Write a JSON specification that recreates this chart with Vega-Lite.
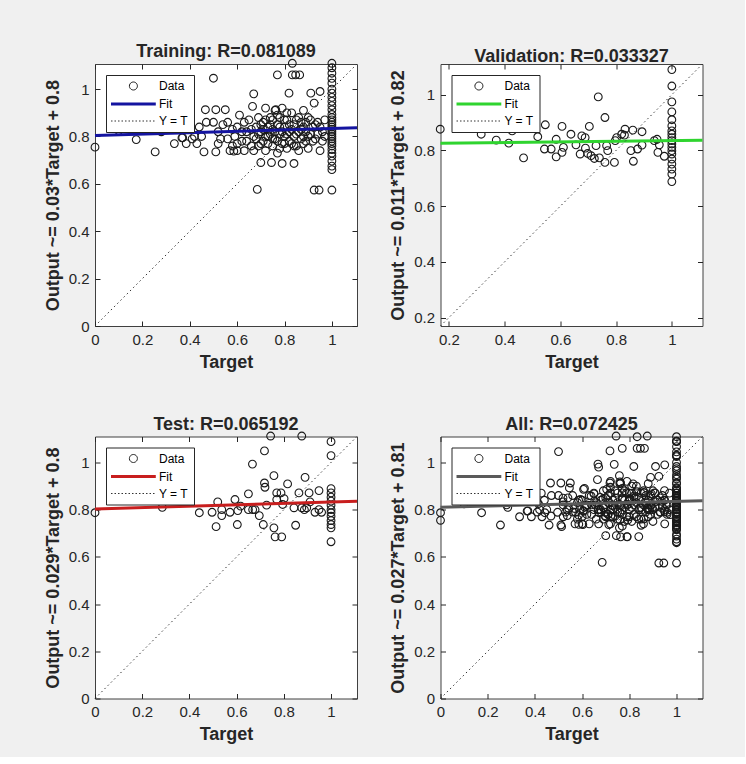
{
"$schema":"https://vega.github.io/schema/vega-lite/v6.json",
"background":"#f0f0f0",
"padding":{"left":43,"top":42,"right":36,"bottom":13},
"config":{
 "font":"Liberation Sans",
 "view":{"fill":"white","stroke":"#404040","strokeWidth":1},
 "axis":{"labelFont":"Liberation Sans","labelFontSize":15,"labelColor":"#262626","labelFlush":false,"titleFont":"Liberation Sans","titleFontSize":18,"titleFontWeight":"bold","titleColor":"#262626","tickSize":-5,"tickColor":"#262626","tickWidth":1,"labelPadding":11,"domain":false,"grid":false,"titlePadding":6},
 "title":{"font":"Liberation Sans","fontSize":18,"fontWeight":"bold","color":"#262626","offset":-4,"frame":"group"},
 "legend":{"orient":"top-left","offset":11,"fillColor":"white","strokeColor":"#262626","padding":5,"rowPadding":5,"symbolSize":64,"labelOffset":36,"labelFontSize":12,"labelFont":"Liberation Sans","labelColor":"#000000"}
},
"datasets":{
"training":[{"target":0,"output":0.755},{"target":0.1,"output":0.825},{"target":0.174,"output":0.787},{"target":0.254,"output":0.735},{"target":0.28,"output":0.82},{"target":0.335,"output":0.77},{"target":0.37,"output":0.795},{"target":0.385,"output":0.77},{"target":0.41,"output":0.79},{"target":0.43,"output":0.77},{"target":0.44,"output":0.84},{"target":0.46,"output":0.735},{"target":0.466,"output":0.913},{"target":0.5,"output":1.046},{"target":0.45,"output":0.8},{"target":0.47,"output":0.86},{"target":0.51,"output":0.913},{"target":0.55,"output":0.913},{"target":0.51,"output":0.735},{"target":0.52,"output":0.77},{"target":0.53,"output":0.79},{"target":0.54,"output":0.85},{"target":0.5,"output":0.86},{"target":0.52,"output":0.82},{"target":0.56,"output":0.86},{"target":0.57,"output":0.74},{"target":0.58,"output":0.76},{"target":0.59,"output":0.8},{"target":0.6,"output":0.84},{"target":0.61,"output":0.89},{"target":0.62,"output":0.78},{"target":0.63,"output":0.74},{"target":0.6,"output":0.74},{"target":0.64,"output":0.82},{"target":0.65,"output":0.87},{"target":0.66,"output":0.76},{"target":0.665,"output":0.927},{"target":0.67,"output":0.98},{"target":0.67,"output":0.8},{"target":0.68,"output":0.84},{"target":0.685,"output":0.577},{"target":0.69,"output":0.88},{"target":0.69,"output":0.76},{"target":0.7,"output":0.69},{"target":0.7,"output":0.82},{"target":0.71,"output":0.86},{"target":0.71,"output":0.78},{"target":0.72,"output":0.92},{"target":0.72,"output":0.74},{"target":0.73,"output":0.84},{"target":0.73,"output":0.8},{"target":0.74,"output":0.88},{"target":0.745,"output":0.69},{"target":0.75,"output":0.76},{"target":0.75,"output":0.83},{"target":0.76,"output":0.91},{"target":0.76,"output":0.79},{"target":0.763,"output":0.913},{"target":0.77,"output":1.06},{"target":0.77,"output":0.85},{"target":0.77,"output":0.73},{"target":0.78,"output":0.81},{"target":0.78,"output":0.88},{"target":0.79,"output":0.686},{"target":0.79,"output":0.77},{"target":0.79,"output":0.92},{"target":0.8,"output":0.84},{"target":0.8,"output":0.8},{"target":0.81,"output":0.75},{"target":0.81,"output":0.87},{"target":0.819,"output":0.983},{"target":0.82,"output":0.82},{"target":0.82,"output":0.78},{"target":0.83,"output":0.9},{"target":0.833,"output":1.109},{"target":0.833,"output":1.06},{"target":0.847,"output":1.06},{"target":0.864,"output":1.06},{"target":0.84,"output":0.686},{"target":0.84,"output":0.76},{"target":0.84,"output":0.85},{"target":0.85,"output":0.81},{"target":0.86,"output":0.88},{"target":0.86,"output":0.74},{"target":0.87,"output":0.79},{"target":0.87,"output":0.83},{"target":0.88,"output":0.91},{"target":0.88,"output":0.77},{"target":0.89,"output":0.86},{"target":0.89,"output":0.82},{"target":0.9,"output":0.75},{"target":0.9,"output":0.8},{"target":0.91,"output":0.87},{"target":0.911,"output":0.983},{"target":0.92,"output":0.84},{"target":0.925,"output":0.941},{"target":0.925,"output":0.574},{"target":0.93,"output":0.79},{"target":0.94,"output":0.86},{"target":0.946,"output":0.574},{"target":0.95,"output":0.99},{"target":0.95,"output":0.74},{"target":0.96,"output":0.82},{"target":0.97,"output":0.8},{"target":0.97,"output":0.87},
{"target":0.56,"output":0.79},{"target":0.58,"output":0.83},{"target":0.6,"output":0.77},{"target":0.62,"output":0.82},{"target":0.63,"output":0.86},{"target":0.64,"output":0.78},{"target":0.66,"output":0.83},{"target":0.67,"output":0.74},{"target":0.68,"output":0.79},{"target":0.69,"output":0.81},{"target":0.7,"output":0.77},{"target":0.7,"output":0.85},{"target":0.71,"output":0.83},{"target":0.72,"output":0.8},{"target":0.72,"output":0.87},{"target":0.73,"output":0.77},{"target":0.74,"output":0.81},{"target":0.74,"output":0.85},{"target":0.75,"output":0.79},{"target":0.75,"output":0.87},{"target":0.76,"output":0.82},{"target":0.77,"output":0.78},{"target":0.77,"output":0.89},{"target":0.78,"output":0.75},{"target":0.78,"output":0.84},{"target":0.79,"output":0.82},{"target":0.8,"output":0.87},{"target":0.8,"output":0.77},{"target":0.81,"output":0.81},{"target":0.81,"output":0.9},{"target":0.82,"output":0.85},{"target":0.83,"output":0.77},{"target":0.83,"output":0.83},{"target":0.84,"output":0.8},{"target":0.85,"output":0.87},{"target":0.85,"output":0.76},{"target":0.86,"output":0.82},{"target":0.87,"output":0.86},{"target":0.88,"output":0.8},{"target":0.88,"output":0.84},{"target":0.89,"output":0.78},{"target":0.9,"output":0.88},{"target":0.91,"output":0.81},{"target":0.92,"output":0.78},{"target":0.93,"output":0.85},{"target":0.94,"output":0.81},{"target":0.95,"output":0.84},{"target":0.96,"output":0.78},{"target":0.586,"output":0.738},{"target":0.367,"output":0.794},{"target":0.42,"output":0.8},
{"target":1,"output":0.574},{"target":1,"output":0.66},{"target":1,"output":0.675},{"target":1,"output":0.696},{"target":1,"output":0.717},{"target":1,"output":0.73},{"target":1,"output":0.745},{"target":1,"output":0.76},{"target":1,"output":0.77},{"target":1,"output":0.78},{"target":1,"output":0.79},{"target":1,"output":0.8},{"target":1,"output":0.81},{"target":1,"output":0.82},{"target":1,"output":0.83},{"target":1,"output":0.84},{"target":1,"output":0.85},{"target":1,"output":0.86},{"target":1,"output":0.87},{"target":1,"output":0.88},{"target":1,"output":0.893},{"target":1,"output":0.913},{"target":1,"output":0.93},{"target":1,"output":0.948},{"target":1,"output":0.965},{"target":1,"output":0.983},{"target":1,"output":1.0},{"target":1,"output":1.025},{"target":1,"output":1.045},{"target":1,"output":1.067},{"target":1,"output":1.09},{"target":1,"output":1.109}],
"validation":[{"target":0.169,"output":0.876},{"target":0.316,"output":0.858},{"target":0.37,"output":0.837},{"target":0.415,"output":0.826},{"target":0.427,"output":0.87},{"target":0.468,"output":0.773},{"target":0.519,"output":0.849},{"target":0.546,"output":0.892},{"target":0.543,"output":0.805},{"target":0.567,"output":0.805},{"target":0.585,"output":0.84},{"target":0.585,"output":0.777},{"target":0.606,"output":0.886},{"target":0.611,"output":0.811},{"target":0.606,"output":0.793},{"target":0.638,"output":0.858},{"target":0.656,"output":0.82},{"target":0.671,"output":0.787},{"target":0.677,"output":0.852},{"target":0.689,"output":0.846},{"target":0.69,"output":0.808},{"target":0.704,"output":0.886},{"target":0.698,"output":0.789},{"target":0.71,"output":0.781},{"target":0.722,"output":0.771},{"target":0.728,"output":0.817},{"target":0.736,"output":0.992},{"target":0.74,"output":0.773},{"target":0.76,"output":0.918},{"target":0.76,"output":0.757},{"target":0.766,"output":0.817},{"target":0.77,"output":0.799},{"target":0.794,"output":0.757},{"target":0.797,"output":0.835},{"target":0.802,"output":0.846},{"target":0.83,"output":0.855},{"target":0.832,"output":0.876},{"target":0.82,"output":0.858},{"target":0.853,"output":0.799},{"target":0.862,"output":0.761},{"target":0.86,"output":0.873},{"target":0.877,"output":0.805},{"target":0.893,"output":0.867},{"target":0.893,"output":0.819},{"target":0.937,"output":0.835},{"target":0.947,"output":0.84},{"target":0.95,"output":0.793},{"target":0.955,"output":0.82},{"target":0.973,"output":0.779},{"target":1,"output":1.09},{"target":1,"output":1.031},{"target":1,"output":0.974},{"target":1,"output":0.938},{"target":1,"output":0.91},{"target":1,"output":0.888},{"target":1,"output":0.87},{"target":1,"output":0.858},{"target":1,"output":0.846},{"target":1,"output":0.835},{"target":1,"output":0.823},{"target":1,"output":0.811},{"target":1,"output":0.799},{"target":1,"output":0.787},{"target":1,"output":0.769},{"target":1,"output":0.751},{"target":1,"output":0.733},{"target":1,"output":0.715},{"target":1,"output":0.688}],
"test":[{"target":0,"output":0.787},{"target":0.285,"output":0.81},{"target":0.442,"output":0.787},{"target":0.496,"output":0.789},{"target":0.513,"output":0.728},{"target":0.52,"output":0.833},{"target":0.537,"output":0.8},{"target":0.537,"output":0.775},{"target":0.572,"output":0.789},{"target":0.593,"output":0.843},{"target":0.603,"output":0.737},{"target":0.605,"output":0.796},{"target":0.617,"output":0.815},{"target":0.65,"output":0.867},{"target":0.65,"output":0.8},{"target":0.667,"output":0.993},{"target":0.668,"output":0.8},{"target":0.678,"output":0.8},{"target":0.696,"output":0.775},{"target":0.713,"output":0.737},{"target":0.718,"output":1.049},{"target":0.718,"output":0.913},{"target":0.72,"output":0.895},{"target":0.727,"output":0.819},{"target":0.744,"output":1.112},{"target":0.758,"output":0.944},{"target":0.758,"output":0.723},{"target":0.763,"output":0.685},{"target":0.77,"output":0.871},{"target":0.77,"output":0.843},{"target":0.788,"output":0.871},{"target":0.791,"output":0.685},{"target":0.795,"output":0.822},{"target":0.801,"output":0.847},{"target":0.816,"output":0.909},{"target":0.843,"output":0.808},{"target":0.85,"output":0.734},{"target":0.864,"output":0.871},{"target":0.876,"output":1.112},{"target":0.876,"output":0.808},{"target":0.887,"output":0.8},{"target":0.89,"output":0.937},{"target":0.897,"output":0.808},{"target":0.907,"output":0.871},{"target":0.911,"output":0.833},{"target":0.932,"output":0.789},{"target":0.949,"output":0.881},{"target":0.949,"output":0.8},{"target":0.96,"output":0.789},{"target":1,"output":1.088},{"target":1,"output":1.029},{"target":1,"output":0.889},{"target":1,"output":0.871},{"target":1,"output":0.853},{"target":1,"output":0.836},{"target":1,"output":0.819},{"target":1,"output":0.8},{"target":1,"output":0.787},{"target":1,"output":0.772},{"target":1,"output":0.754},{"target":1,"output":0.737},{"target":1,"output":0.723},{"target":1,"output":0.664}]
},
"spacing":42.5,
"resolve":{"scale":{"color":"independent"}},
"vconcat":[
{"hconcat":[
 {"width":262,"height":262,"title":{"text":"Training: R=0.081089"},
  "resolve":{"axis":{"x":"independent","y":"independent"}},
  "layer":[
   {"data":{"name":"training"},"mark":{"type":"point","filled":false,"size":60,"strokeWidth":1.1,"opacity":1},
    "encoding":{
     "x":{"field":"target","type":"quantitative","scale":{"domain":[0,1.106],"nice":false,"zero":false},"axis":{"values":[0,0.2,0.4,0.6,0.8,1],"format":"~g","title":"Target"}},
     "y":{"field":"output","type":"quantitative","scale":{"domain":[0,1.106],"nice":false,"zero":false},"axis":{"values":[0,0.2,0.4,0.6,0.8,1],"format":"~g","title":"Output ~= 0.03*Target + 0.8"}},
     "color":{"datum":"Data","type":"nominal","scale":{"domain":["Data","Fit","Y = T"],"range":["#1a1a1a","#1414a0","#333333"]},
      "legend":{"title":null,"encoding":{"symbols":{"shape":{"value":{"expr":"datum.value === 'Data' ? 'M3.1,0A1,1,0,1,1,5.1,0A1,1,0,1,1,3.1,0Z' : 'M-1.5,0L9.7,0'"}},"strokeWidth":{"value":{"expr":"datum.value === 'Fit' ? 3 : 1"}},"strokeDash":{"value":{"expr":"datum.value === 'Y = T' ? [1.5,2] : [1,0]"}},"fill":{"value":"transparent"},"opacity":{"value":1}}}}}}},
   {"data":{"values":[{"target":0,"output":0.804},{"target":1.106,"output":0.837}]},"mark":{"type":"line","strokeWidth":3},
    "encoding":{"x":{"field":"target","type":"quantitative","axis":null},"y":{"field":"output","type":"quantitative","axis":null},"color":{"datum":"Fit","type":"nominal"}}},
   {"data":{"values":[{"target":0,"output":0},{"target":1.106,"output":1.106}]},"mark":{"type":"line","strokeWidth":1,"strokeDash":[1.5,3]},
    "encoding":{"x":{"field":"target","type":"quantitative","axis":{"orient":"top","labels":false,"title":null,"values":[0,0.2,0.4,0.6,0.8,1]}},"y":{"field":"output","type":"quantitative","axis":{"orient":"right","labels":false,"title":null,"values":[0,0.2,0.4,0.6,0.8,1]}},"color":{"datum":"Y = T","type":"nominal"}}}
  ]},
 {"width":262,"height":262,"title":{"text":"Validation: R=0.033327"},
  "resolve":{"axis":{"x":"independent","y":"independent"}},
  "layer":[
   {"data":{"name":"validation"},"mark":{"type":"point","filled":false,"size":60,"strokeWidth":1.1,"opacity":1},
    "encoding":{
     "x":{"field":"target","type":"quantitative","scale":{"domain":[0.17,1.11],"nice":false,"zero":false},"axis":{"values":[0.2,0.4,0.6,0.8,1],"format":"~g","title":"Target"}},
     "y":{"field":"output","type":"quantitative","scale":{"domain":[0.17,1.11],"nice":false,"zero":false},"axis":{"values":[0.2,0.4,0.6,0.8,1],"format":"~g","title":"Output ~= 0.011*Target + 0.82"}},
     "color":{"datum":"Data","type":"nominal","scale":{"domain":["Data","Fit","Y = T"],"range":["#1a1a1a","#2fd42f","#333333"]},
      "legend":{"title":null,"encoding":{"symbols":{"shape":{"value":{"expr":"datum.value === 'Data' ? 'M3.1,0A1,1,0,1,1,5.1,0A1,1,0,1,1,3.1,0Z' : 'M-1.5,0L9.7,0'"}},"strokeWidth":{"value":{"expr":"datum.value === 'Fit' ? 3 : 1"}},"strokeDash":{"value":{"expr":"datum.value === 'Y = T' ? [1.5,2] : [1,0]"}},"fill":{"value":"transparent"},"opacity":{"value":1}}}}}}},
   {"data":{"values":[{"target":0.17,"output":0.826},{"target":1.11,"output":0.836}]},"mark":{"type":"line","strokeWidth":3},
    "encoding":{"x":{"field":"target","type":"quantitative","axis":null},"y":{"field":"output","type":"quantitative","axis":null},"color":{"datum":"Fit","type":"nominal"}}},
   {"data":{"values":[{"target":0.17,"output":0.17},{"target":1.11,"output":1.11}]},"mark":{"type":"line","strokeWidth":1,"strokeDash":[1.5,3]},
    "encoding":{"x":{"field":"target","type":"quantitative","axis":{"orient":"top","labels":false,"title":null,"values":[0.2,0.4,0.6,0.8,1]}},"y":{"field":"output","type":"quantitative","axis":{"orient":"right","labels":false,"title":null,"values":[0.2,0.4,0.6,0.8,1]}},"color":{"datum":"Y = T","type":"nominal"}}}
  ]}
],"spacing":24.5,"resolve":{"scale":{"color":"independent"}}},
{"hconcat":[
 {"width":262,"height":262,"title":{"text":"Test: R=0.065192"},
  "resolve":{"axis":{"x":"independent","y":"independent"}},
  "layer":[
   {"data":{"name":"test"},"mark":{"type":"point","filled":false,"size":60,"strokeWidth":1.1,"opacity":1},
    "encoding":{
     "x":{"field":"target","type":"quantitative","scale":{"domain":[0,1.11],"nice":false,"zero":false},"axis":{"values":[0,0.2,0.4,0.6,0.8,1],"format":"~g","title":"Target"}},
     "y":{"field":"output","type":"quantitative","scale":{"domain":[0,1.11],"nice":false,"zero":false},"axis":{"values":[0,0.2,0.4,0.6,0.8,1],"format":"~g","title":"Output ~= 0.029*Target + 0.8"}},
     "color":{"datum":"Data","type":"nominal","scale":{"domain":["Data","Fit","Y = T"],"range":["#1a1a1a","#c81e1e","#333333"]},
      "legend":{"title":null,"encoding":{"symbols":{"shape":{"value":{"expr":"datum.value === 'Data' ? 'M3.1,0A1,1,0,1,1,5.1,0A1,1,0,1,1,3.1,0Z' : 'M-1.5,0L9.7,0'"}},"strokeWidth":{"value":{"expr":"datum.value === 'Fit' ? 3 : 1"}},"strokeDash":{"value":{"expr":"datum.value === 'Y = T' ? [1.5,2] : [1,0]"}},"fill":{"value":"transparent"},"opacity":{"value":1}}}}}}},
   {"data":{"values":[{"target":0,"output":0.803},{"target":1.11,"output":0.836}]},"mark":{"type":"line","strokeWidth":3},
    "encoding":{"x":{"field":"target","type":"quantitative","axis":null},"y":{"field":"output","type":"quantitative","axis":null},"color":{"datum":"Fit","type":"nominal"}}},
   {"data":{"values":[{"target":0,"output":0},{"target":1.11,"output":1.11}]},"mark":{"type":"line","strokeWidth":1,"strokeDash":[1.5,3]},
    "encoding":{"x":{"field":"target","type":"quantitative","axis":{"orient":"top","labels":false,"title":null,"values":[0,0.2,0.4,0.6,0.8,1]}},"y":{"field":"output","type":"quantitative","axis":{"orient":"right","labels":false,"title":null,"values":[0,0.2,0.4,0.6,0.8,1]}},"color":{"datum":"Y = T","type":"nominal"}}}
  ]},
 {"width":262,"height":262,"title":{"text":"All: R=0.072425"},
  "resolve":{"axis":{"x":"independent","y":"independent"}},
  "layer":[
   {"data":{"name":"training"},"mark":{"type":"point","filled":false,"size":60,"strokeWidth":1.1,"opacity":1},
    "encoding":{
     "x":{"field":"target","type":"quantitative","scale":{"domain":[0,1.11],"nice":false,"zero":false},"axis":{"values":[0,0.2,0.4,0.6,0.8,1],"format":"~g","title":"Target"}},
     "y":{"field":"output","type":"quantitative","scale":{"domain":[0,1.11],"nice":false,"zero":false},"axis":{"values":[0,0.2,0.4,0.6,0.8,1],"format":"~g","title":"Output ~= 0.027*Target + 0.81"}},
     "color":{"datum":"Data","type":"nominal","scale":{"domain":["Data","Fit","Y = T"],"range":["#1a1a1a","#5a5a5a","#333333"]},
      "legend":{"title":null,"encoding":{"symbols":{"shape":{"value":{"expr":"datum.value === 'Data' ? 'M3.1,0A1,1,0,1,1,5.1,0A1,1,0,1,1,3.1,0Z' : 'M-1.5,0L9.7,0'"}},"strokeWidth":{"value":{"expr":"datum.value === 'Fit' ? 3 : 1"}},"strokeDash":{"value":{"expr":"datum.value === 'Y = T' ? [1.5,2] : [1,0]"}},"fill":{"value":"transparent"},"opacity":{"value":1}}}}}}},
   {"data":{"name":"validation"},"mark":{"type":"point","filled":false,"size":60,"strokeWidth":1.1,"opacity":1},
    "encoding":{"x":{"field":"target","type":"quantitative","axis":null},"y":{"field":"output","type":"quantitative","axis":null},"color":{"datum":"Data","type":"nominal"}}},
   {"data":{"name":"test"},"mark":{"type":"point","filled":false,"size":60,"strokeWidth":1.1,"opacity":1},
    "encoding":{"x":{"field":"target","type":"quantitative","axis":null},"y":{"field":"output","type":"quantitative","axis":null},"color":{"datum":"Data","type":"nominal"}}},
   {"data":{"values":[{"target":0,"output":0.81},{"target":1.11,"output":0.838}]},"mark":{"type":"line","strokeWidth":3},
    "encoding":{"x":{"field":"target","type":"quantitative","axis":null},"y":{"field":"output","type":"quantitative","axis":null},"color":{"datum":"Fit","type":"nominal"}}},
   {"data":{"values":[{"target":0,"output":0},{"target":1.11,"output":1.11}]},"mark":{"type":"line","strokeWidth":1,"strokeDash":[1.5,3]},
    "encoding":{"x":{"field":"target","type":"quantitative","axis":{"orient":"top","labels":false,"title":null,"values":[0,0.2,0.4,0.6,0.8,1]}},"y":{"field":"output","type":"quantitative","axis":{"orient":"right","labels":false,"title":null,"values":[0,0.2,0.4,0.6,0.8,1]}},"color":{"datum":"Y = T","type":"nominal"}}}
  ]}
],"spacing":24.5,"resolve":{"scale":{"color":"independent"}}}
]
}
